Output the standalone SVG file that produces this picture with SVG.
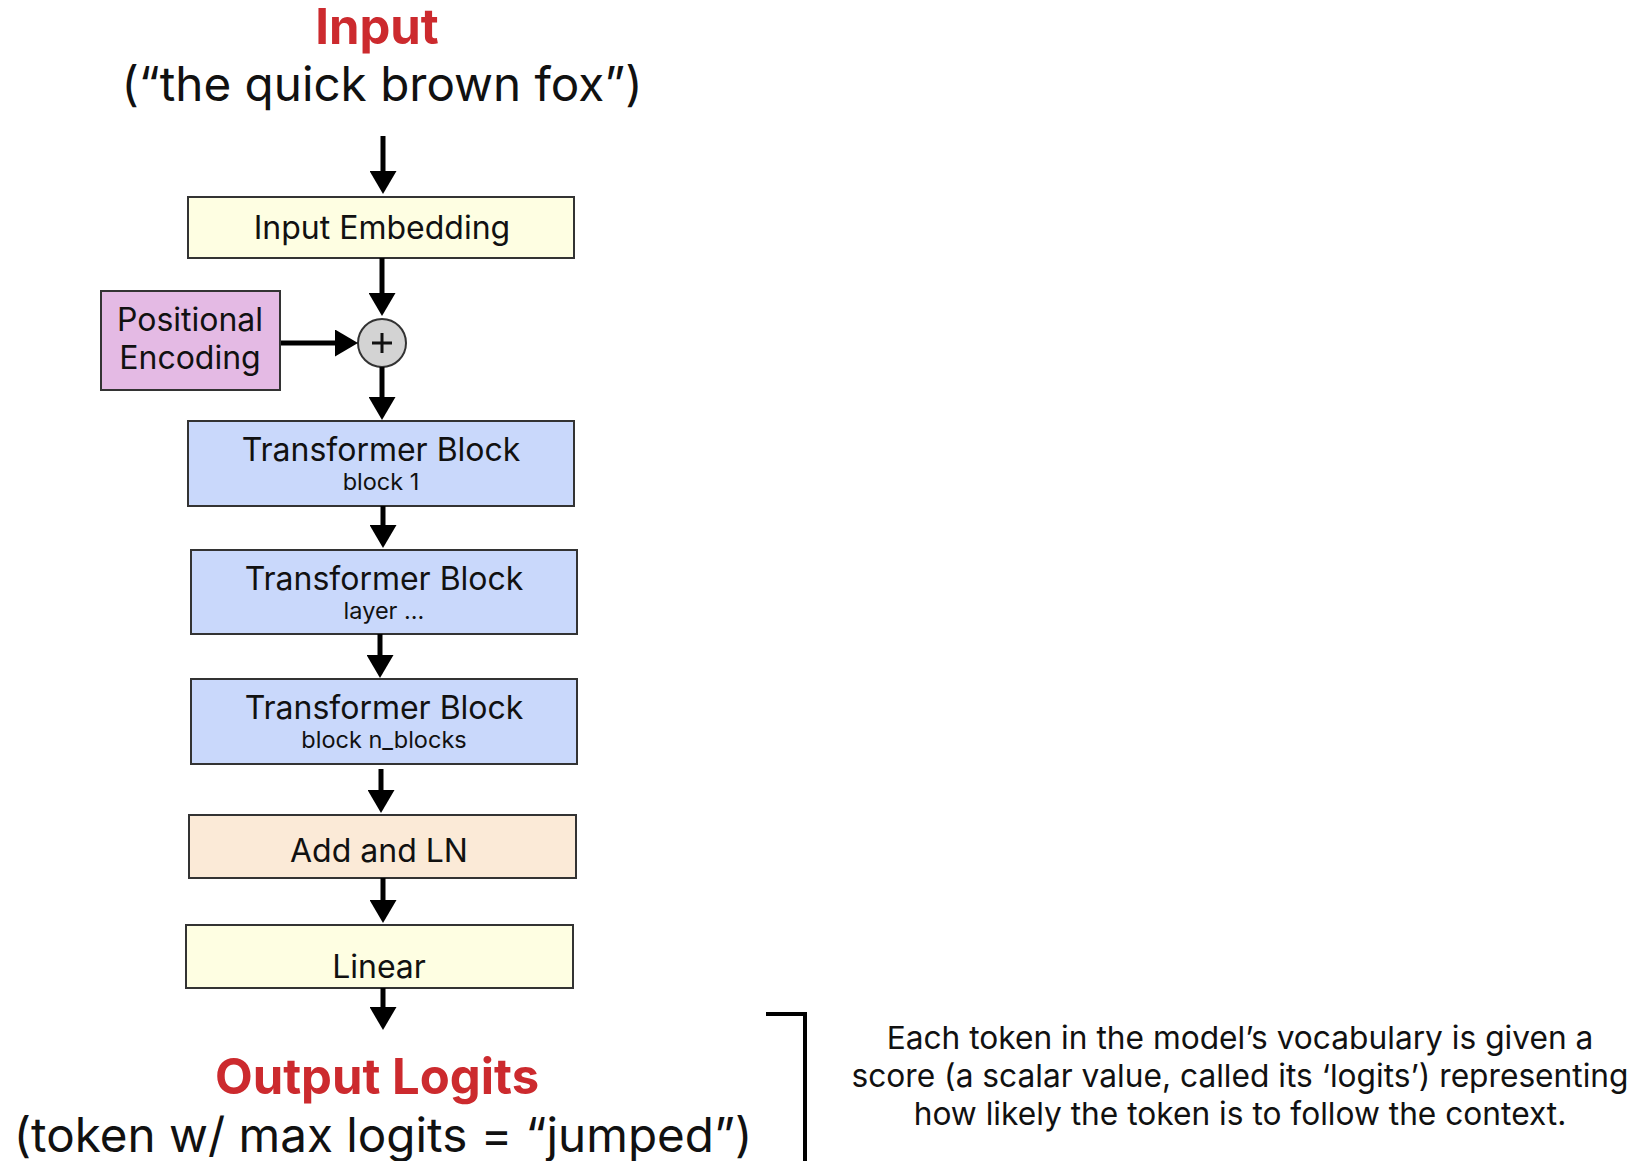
<svg xmlns="http://www.w3.org/2000/svg" width="1639" height="1161" viewBox="0 0 1639 1161">
<defs>
<marker id="ah" markerUnits="userSpaceOnUse" markerWidth="23" markerHeight="27" refX="10" refY="13.5" orient="auto">
<path d="M0,0 L23,13.5 L0,27 z" fill="#000"/>
</marker>
<style>
text{font-family:Inter,"Noto Sans","Liberation Sans",sans-serif;fill:#111;text-anchor:middle}
.box{stroke:#333;stroke-width:2}
.yellow{fill:#fefee2}
.blue{fill:#c9d8fb}
.pink{fill:#e4bae4}
.peach{fill:#fbead7}
.lbl{font-size:32px}
.sub{font-size:23.5px}
.title{font-size:49px;font-weight:700;fill:#cc2a2e}
.big{font-size:47.6px}
.note{font-size:31.7px}
.conn line{stroke:#000;stroke-width:5;marker-end:url(#ah)}
</style>
</defs>
<rect width="1639" height="1161" fill="#fff"/>
<g id="input-label">
<text class="title" x="377" y="44">Input</text>
<text class="big" x="382" y="101">(“the quick brown fox”)</text>
</g>
<g id="input-embedding">
<rect class="box yellow" x="188" y="197" width="386" height="61"/>
<text class="lbl" x="382" y="239">Input Embedding</text>
</g>
<g id="positional-encoding">
<rect class="box pink" x="101" y="291" width="179" height="99"/>
<text class="lbl" x="190" y="331">Positional</text>
<text class="lbl" x="190" y="369">Encoding</text>
</g>
<g id="add-circle">
<circle cx="382" cy="343" r="24" fill="#d3d3d3" stroke="#333" stroke-width="2"/>
<path d="M372,343 H392 M382,333 V353" stroke="#111" stroke-width="3"/>
</g>
<g id="transformer-block-1">
<rect class="box blue" x="188" y="421" width="386" height="85"/>
<text class="lbl" x="381" y="461">Transformer Block</text>
<text class="sub" x="381" y="490">block 1</text>
</g>
<g id="transformer-block-2">
<rect class="box blue" x="191" y="550" width="386" height="84"/>
<text class="lbl" x="384" y="590">Transformer Block</text>
<text class="sub" x="384" y="619">layer ...</text>
</g>
<g id="transformer-block-n">
<rect class="box blue" x="191" y="679" width="386" height="85"/>
<text class="lbl" x="384" y="719">Transformer Block</text>
<text class="sub" x="384" y="748">block n_blocks</text>
</g>
<g id="add-and-ln">
<rect class="box peach" x="189" y="815" width="387" height="63"/>
<text class="lbl" x="379" y="862">Add and LN</text>
</g>
<g id="linear">
<rect class="box yellow" x="186" y="925" width="387" height="63"/>
<text class="lbl" x="379" y="978">Linear</text>
</g>
<g id="output-label">
<text class="title" x="377" y="1094">Output Logits</text>
<text class="big" x="383" y="1152">(token w/ max logits = “jumped”)</text>
</g>
<g id="note">
<path d="M766,1014 H805 V1161" fill="none" stroke="#000" stroke-width="4"/>
<text class="note" x="1240" y="1049">Each token in the model’s vocabulary is given a</text>
<text class="note" x="1240" y="1087">score (a scalar value, called its ‘logits’) representing</text>
<text class="note" x="1240" y="1125">how likely the token is to follow the context.</text>
</g>
<g id="connectors" class="conn">
<line x1="383" y1="136" x2="383" y2="181"/>
<line x1="382" y1="258" x2="382" y2="303"/>
<line x1="281" y1="343" x2="345" y2="343"/>
<line x1="382" y1="367" x2="382" y2="407"/>
<line x1="383" y1="506" x2="383" y2="535"/>
<line x1="380" y1="634" x2="380" y2="665"/>
<line x1="381" y1="769" x2="381" y2="800"/>
<line x1="383" y1="878" x2="383" y2="910"/>
<line x1="383" y1="988" x2="383" y2="1017"/>
</g>
</svg>
